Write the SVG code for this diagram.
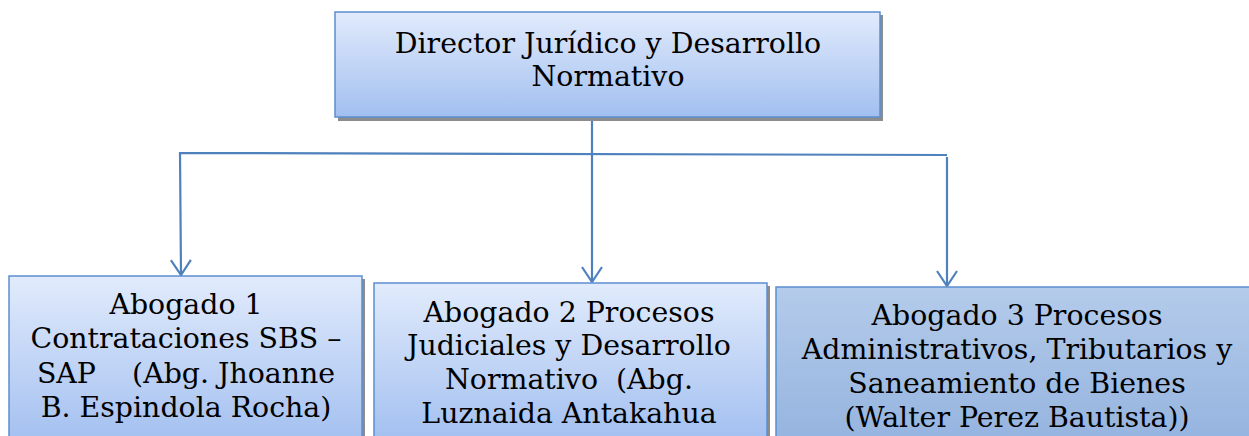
<svg xmlns="http://www.w3.org/2000/svg" width="1249" height="436" viewBox="0 0 1249 436">
<defs>
<linearGradient id="gLight" x1="0" y1="0" x2="0" y2="1">
<stop offset="0" stop-color="#e1ebfc"/>
<stop offset="1" stop-color="#a2bff0"/>
</linearGradient>
<linearGradient id="gDark" x1="0" y1="0" x2="0" y2="1">
<stop offset="0" stop-color="#b4cbea"/>
<stop offset="1" stop-color="#94b3df"/>
</linearGradient>
<marker id="arr" viewBox="0 0 18 22" refX="16" refY="11" markerWidth="18" markerHeight="22" markerUnits="userSpaceOnUse" orient="auto">
<path d="M1,1 L16,11 L1,21" fill="none" stroke="#4f81bd" stroke-width="2.2"/>
</marker>
</defs>
<style>
.box{stroke:#5b8fd0;stroke-width:1.5}
.sh{fill:#8c8c8c}
.t{font-family:"DejaVu Serif","Liberation Serif",serif;font-size:28.4px;fill:#000;text-anchor:middle}
.c{fill:none;stroke:#4f81bd;stroke-width:2.2}
</style>
<rect width="1249" height="436" fill="#ffffff"/>
<g id="connectors">
<line class="c" x1="592" y1="117" x2="592" y2="282" marker-end="url(#arr)"/>
<polyline class="c" points="947,155 180,153 181,275" marker-end="url(#arr)"/>
<line class="c" x1="947" y1="157" x2="947" y2="286" marker-end="url(#arr)"/>
</g>
<g id="director">
<rect class="sh" x="338" y="15" width="545" height="106"/>
<rect class="box" x="335" y="12" width="545" height="105" fill="url(#gLight)"/>
<text class="t" x="608" y="53">Director Jurídico y Desarrollo</text>
<text class="t" x="608" y="86">Normativo</text>
</g>
<g id="abogado1">
<rect class="sh" x="12" y="279" width="353" height="170"/>
<rect class="box" x="9" y="276" width="353" height="170" fill="url(#gLight)"/>
<text class="t" x="186" y="314">Abogado 1</text>
<text class="t" x="186" y="348">Contrataciones SBS –</text>
<text class="t" x="186" y="383" xml:space="preserve">SAP    (Abg. Jhoanne</text>
<text class="t" x="186" y="417">B. Espindola Rocha)</text>
</g>
<g id="abogado2">
<rect class="sh" x="377" y="286" width="393" height="160"/>
<rect class="box" x="374" y="283" width="393" height="160" fill="url(#gLight)"/>
<text class="t" x="569" y="322">Abogado 2 Procesos</text>
<text class="t" x="569" y="355">Judiciales y Desarrollo</text>
<text class="t" x="569" y="389" xml:space="preserve">Normativo  (Abg.</text>
<text class="t" x="569" y="423">Luznaida Antakahua</text>
</g>
<g id="abogado3">
<rect class="box" x="776" y="287" width="490" height="160" fill="url(#gDark)"/>
<text class="t" x="1017" y="325">Abogado 3 Procesos</text>
<text class="t" x="1017" y="359">Administrativos, Tributarios y</text>
<text class="t" x="1017" y="393">Saneamiento de Bienes</text>
<text class="t" x="1017" y="427">(Walter Perez Bautista))</text>
</g>
</svg>
